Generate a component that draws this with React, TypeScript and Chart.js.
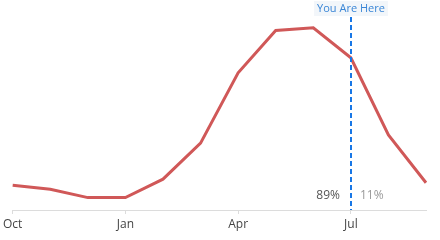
import React, { useEffect, useRef } from "react";
import { Chart, registerables } from "chart.js";

Chart.register(...registerables);

const months = ["Oct", "Nov", "Dec", "Jan", "Feb", "Mar", "Apr", "May", "Jun", "Jul", "Aug", "Sep"];
const values = [12.4, 10.4, 6.2, 6.2, 15.4, 33.4, 68.6, 89.8, 91.1, 76.1, 37.5, 13.6];
const markerIndex = 9;
const markerLabel = "You Are Here";
const leftShare = "89%";
const rightShare = "11%";

const FONT = "'Open Sans', sans-serif";

const markerPlugin = {
  id: "marker",
  afterDatasetsDraw(chart: any) {
    const { ctx, scales, chartArea } = chart;
    const x = Math.round(scales.x.getPixelForValue(markerIndex));
    ctx.save();
    // dashed line
    ctx.strokeStyle = "#1877e6";
    ctx.lineWidth = 2;
    ctx.setLineDash([5, 3]);
    ctx.beginPath();
    ctx.moveTo(x, 17);
    ctx.lineTo(x, chartArea.bottom);
    ctx.stroke();
    ctx.setLineDash([]);
    // label box
    ctx.font = `11px ${FONT}`;
    const w = ctx.measureText(markerLabel).width + 6;
    ctx.fillStyle = "#f2f6fa";
    ctx.fillRect(x - w / 2, 1, w, 15);
    ctx.fillStyle = "#3a86d6";
    ctx.textAlign = "center";
    ctx.textBaseline = "middle";
    ctx.fillText(markerLabel, x, 9);
    // shares
    ctx.font = `12px ${FONT}`;
    ctx.textAlign = "right";
    ctx.fillStyle = "#555";
    ctx.fillText(leftShare, x - 11, 196);
    ctx.textAlign = "left";
    ctx.fillStyle = "#999";
    ctx.fillText(rightShare, x + 9, 196);
    ctx.restore();
  },
};

export default function App() {
  const ref = useRef<HTMLCanvasElement>(null);
  useEffect(() => {
    const chart = new Chart(ref.current!, {
      type: "line",
      data: {
        labels: months,
        datasets: [
          {
            data: values,
            borderColor: "#d05858",
            borderWidth: 3,
            pointRadius: 0,
            tension: 0,
            fill: false,
          },
        ],
      },
      options: {
        animation: false,
        responsive: false,
        layout: { padding: { left: 10, right: 14, top: 10, bottom: 0 } },
        plugins: { legend: { display: false }, tooltip: { enabled: false } },
        scales: {
          x: {
            offset: false,
            afterFit: (s: any) => {
              s.height = 30;
            },
            border: { color: "#dcdcdc", width: 1 },
            grid: {
              drawOnChartArea: false,
              drawTicks: true,
              tickLength: 4,
              color: (c: any) => (c.index % 3 === 0 ? "#dcdcdc" : "rgba(0,0,0,0)"),
            },
            ticks: {
              autoSkip: false,
              maxRotation: 0,
              padding: 3,
              color: "#444",
              font: { family: FONT, size: 12 },
              callback: (_v: any, i: number) => (i % 3 === 0 ? months[i] : ""),
            },
          },
          y: { display: false, min: 0, max: 100 },
        },
      },
      plugins: [markerPlugin],
    });
    return () => chart.destroy();
  }, []);
  return (
    <div style={{ position: "absolute", left: 0, top: 0, width: 440, height: 240, background: "#fff" }}>
      <canvas ref={ref} width={440} height={240} />
    </div>
  );
}
